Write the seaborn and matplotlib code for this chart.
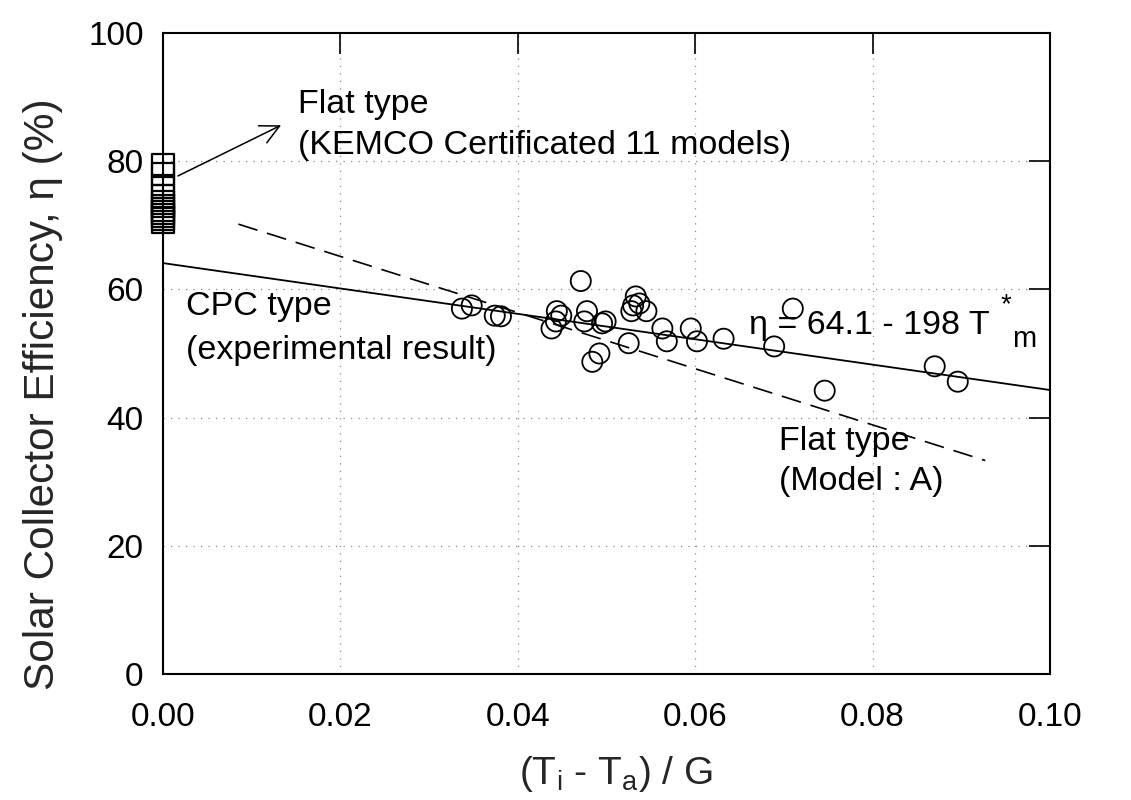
import numpy as np
import pandas as pd
import seaborn as sns
import matplotlib
matplotlib.use("Agg")
import matplotlib.pyplot as plt

# CPC collector measurements: (Ti - Ta)/G and efficiency (%)
cpc_x = [0.0337, 0.0348, 0.0374, 0.0381, 0.0438, 0.0443, 0.0444, 0.0449,
         0.0471, 0.0475, 0.0478, 0.0484, 0.0492, 0.0495, 0.0499, 0.0525,
         0.0528, 0.0530, 0.0533, 0.0537, 0.0545, 0.0563, 0.0568, 0.0595,
         0.0602, 0.0632, 0.0689, 0.0710, 0.0746, 0.0870, 0.0896]
cpc_eta = [57.0, 57.5, 55.9, 55.8, 53.9, 55.0, 56.6, 55.9,
           61.3, 55.0, 56.6, 48.7, 50.0, 54.7, 55.0, 51.6,
           56.6, 57.5, 58.9, 57.8, 56.6, 53.9, 51.9, 53.9,
           51.9, 52.3, 51.1, 57.0, 44.2, 48.0, 45.6]

# Flat-type collectors (KEMCO certified, 11 models), optical efficiency at x = 0
flat_x = [0.0] * 11
flat_eta = [79.3, 78.0, 76.0, 74.5, 73.5, 73.0, 72.5, 72.0, 71.5, 71.0, 70.5]

# Linear fit of CPC data: eta = 64.1 - 198 T*m
cpc_fit = (64.1, -198.0)
cpc_fit_range = [0.0, 0.1]

# Flat type, model A efficiency curve
flat_a = (73.9, -438.0)
flat_a_range = [0.0085, 0.0927]

x_ticks = [0.00, 0.02, 0.04, 0.06, 0.08, 0.10]
y_ticks = [0, 20, 40, 60, 80, 100]

sns.set_theme(style="white")
plt.rcParams["font.family"] = ["Liberation Sans", "DejaVu Sans"]
plt.rcParams["mathtext.fontset"] = "custom"
plt.rcParams["mathtext.rm"] = "Liberation Sans"
plt.rcParams["mathtext.it"] = "Liberation Sans"

fig = plt.figure(figsize=(11.31, 8.0), dpi=100)
ax = fig.add_axes([0.1441, 0.1575, 0.7843, 0.8013])

# dotted grid
for xv in x_ticks[1:-1]:
    ax.axvline(xv, color="0.55", lw=0.9, ls=(0, (1, 5)), zorder=0)
for yv in y_ticks[1:-1]:
    ax.axhline(yv, color="0.55", lw=0.9, ls=(0, (1, 5)), zorder=0)

# fit lines
fx = np.array(cpc_fit_range)
fit_df = pd.DataFrame({"x": fx, "y": cpc_fit[0] + cpc_fit[1] * fx})
sns.lineplot(data=fit_df, x="x", y="y", ax=ax, color="black", lw=1.3, zorder=2)

ax_ = np.array(flat_a_range)
flat_df = pd.DataFrame({"x": ax_, "y": flat_a[0] + flat_a[1] * ax_})
sns.lineplot(data=flat_df, x="x", y="y", ax=ax, color="black", lw=1.2,
             dashes=False, zorder=2)
ax.lines[-1].set_linestyle((0, (12, 6)))

# markers
cpc_df = pd.DataFrame({"x": cpc_x, "eta": cpc_eta})
sns.scatterplot(data=cpc_df, x="x", y="eta", ax=ax, marker="o", s=210,
                facecolor="none", edgecolor="black", linewidth=1.3, zorder=3)
flat_df2 = pd.DataFrame({"x": flat_x, "eta": flat_eta})
sns.scatterplot(data=flat_df2, x="x", y="eta", ax=ax, marker="s", s=270,
                facecolor="none", edgecolor="black", linewidth=1.6, zorder=4,
                clip_on=False)

ax.set_xlim(0, 0.1)
ax.set_ylim(0, 100)
ax.set_xticks(x_ticks)
ax.set_xticklabels([f"{v:.2f}" for v in x_ticks])
ax.set_yticks(y_ticks)
ax.tick_params(axis="both", direction="in", length=15, width=1.2,
               labelsize=24, top=True, right=True, colors="black")
ax.tick_params(axis="x", pad=20)
ax.tick_params(axis="y", pad=14)
for s in ax.spines.values():
    s.set_color("black")
    s.set_linewidth(1.5)

ax.set_xlabel(r"(T$_\mathregular{i}$ - T$_\mathregular{a}$) / G", fontsize=28)
ax.set_ylabel("Solar Collector Efficiency, η (%)", fontsize=30.5)
ax.xaxis.set_label_coords(0.511, -0.125)
ax.yaxis.set_label_coords(-0.113, 0.437)

# annotations
txt = dict(fontsize=24.5, color="black", va="center", ha="left")
ax.text(0.0152, 88.8, "Flat type", **txt)
ax.text(0.0152, 82.5, "(KEMCO Certificated 11 models)", **txt)
ax.annotate("", xy=(0.0136, 85.8), xytext=(0.0014, 77.5),
            arrowprops=dict(arrowstyle="->", color="black", lw=1.1,
                            mutation_scale=34))
ax.text(0.0026, 57.4, "CPC type", **txt)
ax.text(0.0026, 50.5, "(experimental result)", **txt)
ax.text(0.0661, 54.3, "η = 64.1 - 198 T", **txt)
ax.text(0.0944, 57.6, "*", fontsize=20, color="black", va="center", ha="left")
ax.text(0.0957, 52.2, "m", fontsize=21, color="black", va="center", ha="left")
ax.text(0.0695, 36.3, "Flat type", **txt)
ax.text(0.0695, 30.0, "(Model : A)", **txt)

fig.savefig("out.png", dpi=100, facecolor="white")
